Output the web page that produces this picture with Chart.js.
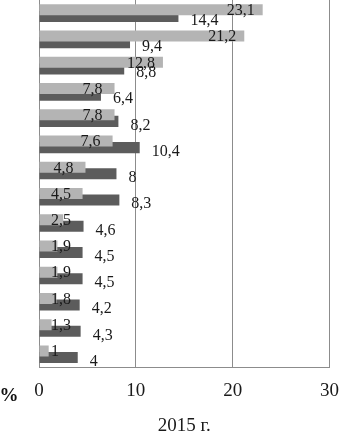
<!DOCTYPE html>
<html>
<head>
<meta charset="utf-8">
<script src="https://cdn.jsdelivr.net/npm/chart.js@4"></script>
<style>
html,body{margin:0;padding:0;background:#fff}
#wrap{width:339px;height:433px;position:relative}
</style>
</head>
<body>
<div id="wrap"><canvas id="chart"></canvas></div>
<script>
// 14 rows, top to bottom
const rows = ["1","2","3","4","5","6","7","8","9","10","11","12","13","14"]
const lightValues = [23.1, 21.2, 12.8, 7.8, 7.8, 7.6, 4.8, 4.5, 2.5, 1.9, 1.9, 1.8, 1.3, 1]
const darkValues = [14.4, 9.4, 8.8, 6.4, 8.2, 10.4, 8, 8.3, 4.6, 4.5, 4.5, 4.2, 4.3, 4]
const xTicks = [0, 10, 20, 30]
const xTitle = "2015 г."
const unitLabel = "%"

const serif = "'Liberation Serif', 'Times New Roman', serif"

function fmt(v){
  return String(v).replace(".", ",")
}

const labelPlugin = {
  id: "barLabels",
  afterDatasetsDraw(chart){
    const ctx = chart.ctx
    ctx.save()
    ctx.font = "16px " + serif
    ctx.fillStyle = "#1a1a1a"
    ctx.textBaseline = "middle"
    ctx.textAlign = "left"

    // light series: near the end of the bar, but never left of the axis
    chart.getDatasetMeta(0).data.forEach((bar, i) => {
      let txt = fmt(lightValues[i])
      let w = ctx.measureText(txt).width
      let left = Math.max(bar.x - 22 - w / 2, chart.chartArea.left + 12)
      ctx.fillText(txt, left, bar.y + 1)
    })

    // dark series: just right of the bar
    chart.getDatasetMeta(1).data.forEach((bar, i) => {
      ctx.fillText(fmt(darkValues[i]), bar.x + 12, bar.y + 4)
    })

    // unit mark left of the x ticks
    ctx.font = "bold 19px " + serif
    ctx.textAlign = "center"
    ctx.fillStyle = "#111"
    ctx.fillText(unitLabel, 9, chart.chartArea.bottom + 29)
    ctx.restore()
  }
}

new Chart(document.getElementById("chart"), {
  type: "bar",
  data: {
    labels: rows,
    datasets: [
      {
        label: "light",
        data: lightValues,
        backgroundColor: "#b4b4b4",
        categoryPercentage: 0.5,
        barPercentage: 1.68
      },
      {
        label: "dark",
        data: darkValues,
        backgroundColor: "#5c5c5c",
        categoryPercentage: 0.5,
        barPercentage: 1.68
      }
    ]
  },
  options: {
    indexAxis: "y",
    responsive: true,
    maintainAspectRatio: false,
    animation: false,
    layout: { padding: { left: 39, right: 0, top: 0, bottom: 0 } },
    plugins: {
      legend: { display: false },
      tooltip: { enabled: false }
    },
    scales: {
      y: {
        ticks: { display: false },
        grid: { display: false, drawTicks: false },
        border: { display: true, color: "#8c8c8c", width: 1 }
      },
      x: {
        min: xTicks[0],
        max: xTicks[xTicks.length - 1],
        afterBuildTicks(scale){
          scale.ticks = xTicks.map(v => ({ value: v }))
        },
        ticks: {
          padding: 0,
          color: "#1a1a1a",
          font: { family: serif, size: 19 }
        },
        grid: { color: "#8c8c8c", lineWidth: 1, drawTicks: true, tickLength: 12, tickColor: "rgba(0,0,0,0)" },
        border: { display: true, color: "#8c8c8c", width: 1 },
        title: {
          display: true,
          text: xTitle,
          color: "#1a1a1a",
          font: { family: serif, size: 19 },
          padding: { top: 12, bottom: -4 }
        }
      }
    }
  },
  plugins: [labelPlugin]
})
</script>
</body>
</html>
